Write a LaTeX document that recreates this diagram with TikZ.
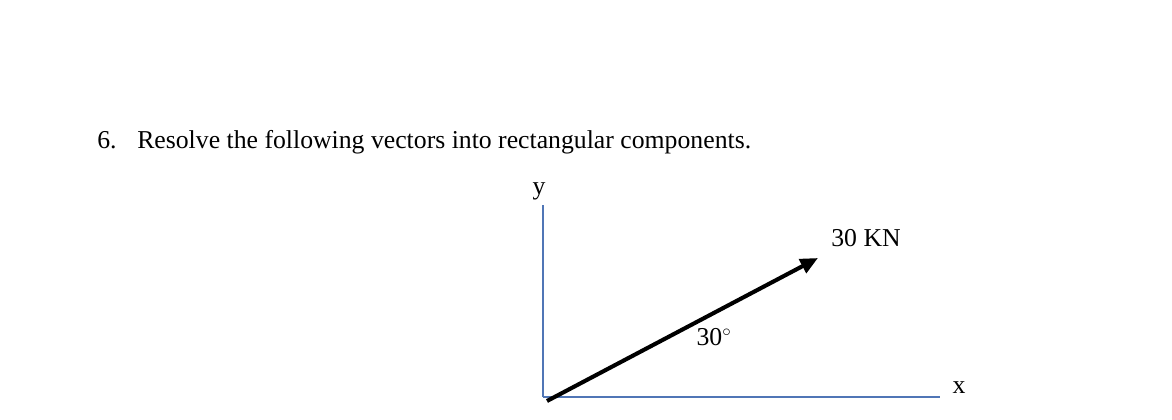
\documentclass[tikz,border=0pt]{standalone}
\usepackage{fontspec}
\setmainfont{Liberation Serif}
\usetikzlibrary{arrows.meta}
\definecolor{axisblue}{RGB}{80,118,182}
\begin{document}
\begin{tikzpicture}[x=0.025cm, y=0.025cm, font=\fontsize{18.3}{22}\selectfont]

\path[use as bounding box] (0,0) rectangle (1172,420);

%% setup styles
\tikzstyle{axis}=[draw=axisblue, line width=0.75pt]
\tikzstyle{force}=[line width=2.9pt, -{Triangle[length=0.44cm,width=0.38cm]}, shorten >=0pt]
\tikzstyle{lbl}=[inner sep=0pt]

%% coordinate grid
\def \xorig {543}
\def \yorig {23}
\def \ytop {215}
\def \xend {940}

% question text
\node[lbl, anchor=base west] (num) at (97,271) {6.};
\node[lbl, anchor=base west] (question) at (137,271) {Resolve the following vectors into rectangular components.};

% axes
\coordinate (O) at (\xorig,\yorig);
\coordinate (Ytop) at (\xorig,\ytop);
\coordinate (Xend) at (\xend,\yorig);
\draw[axis] (O) -- (Ytop);
\draw[axis] (O) -- (Xend);
\node[lbl] (ylabel) at (539,229) {y};
\node[lbl] (xlabel) at (959,32) {x};

% force vector
\coordinate (Fstart) at (547,19);
\coordinate (Ftip) at (818,162);
\draw[force] (Fstart) -- (Ftip);
\node[lbl] (angle) at (714,83) {30$^{\circ}$};
\node[lbl] (force) at (866,182) {30 KN};

\end{tikzpicture}
\end{document}
